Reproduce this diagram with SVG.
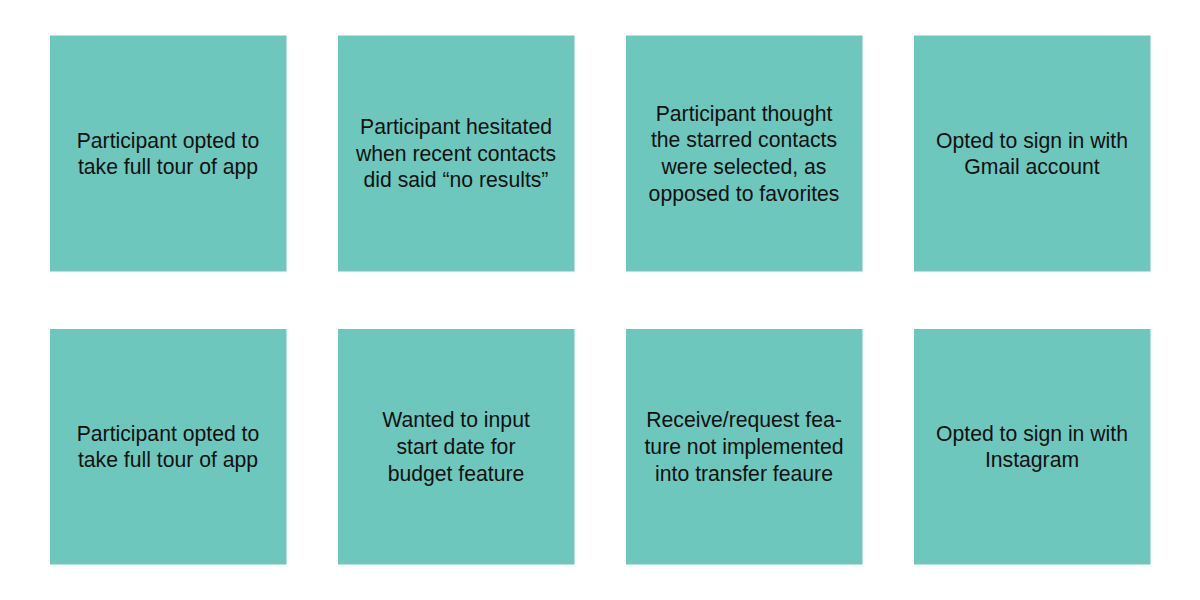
<svg xmlns="http://www.w3.org/2000/svg" width="1200" height="600" viewBox="0 0 1200 600">
<style>
.box{fill:#6dc7bc;}
.t{font-family:"Liberation Sans",Arial,sans-serif;font-size:21.2px;fill:#111;text-anchor:middle;}
</style>
<rect width="1200" height="600" fill="#fff"/>
<g id="n1"><rect class="box" x="50" y="35.5" width="236.5" height="236"/><text class="t"><tspan x="168" y="147.5">Participant opted to</tspan><tspan x="168" y="174.2">take full tour of app</tspan></text></g>
<g id="n2"><rect class="box" x="338" y="35.5" width="236.5" height="236"/><text class="t"><tspan x="456" y="134">Participant hesitated</tspan><tspan x="456" y="160.7">when recent contacts</tspan><tspan x="456" y="187.4">did said “no results”</tspan></text></g>
<g id="n3"><rect class="box" x="626" y="35.5" width="236.5" height="236"/><text class="t"><tspan x="744" y="120.5">Participant thought</tspan><tspan x="744" y="147.2">the starred contacts</tspan><tspan x="744" y="173.9">were selected, as</tspan><tspan x="744" y="200.6">opposed to favorites</tspan></text></g>
<g id="n4"><rect class="box" x="914" y="35.5" width="236.5" height="236"/><text class="t"><tspan x="1032" y="147.5">Opted to sign in with</tspan><tspan x="1032" y="174.2">Gmail account</tspan></text></g>
<g id="n5"><rect class="box" x="50" y="329" width="236.5" height="235.5"/><text class="t"><tspan x="168" y="440.7">Participant opted to</tspan><tspan x="168" y="467.4">take full tour of app</tspan></text></g>
<g id="n6"><rect class="box" x="338" y="329" width="236.5" height="235.5"/><text class="t"><tspan x="456" y="427.3">Wanted to input</tspan><tspan x="456" y="454">start date for</tspan><tspan x="456" y="480.7">budget feature</tspan></text></g>
<g id="n7"><rect class="box" x="626" y="329" width="236.5" height="235.5"/><text class="t"><tspan x="744" y="427.3">Receive/request fea-</tspan><tspan x="744" y="454">ture not implemented</tspan><tspan x="744" y="480.7">into transfer feaure</tspan></text></g>
<g id="n8"><rect class="box" x="914" y="329" width="236.5" height="235.5"/><text class="t"><tspan x="1032" y="440.7">Opted to sign in with</tspan><tspan x="1032" y="467.4">Instagram</tspan></text></g>
<g id="connectors"></g>
</svg>
